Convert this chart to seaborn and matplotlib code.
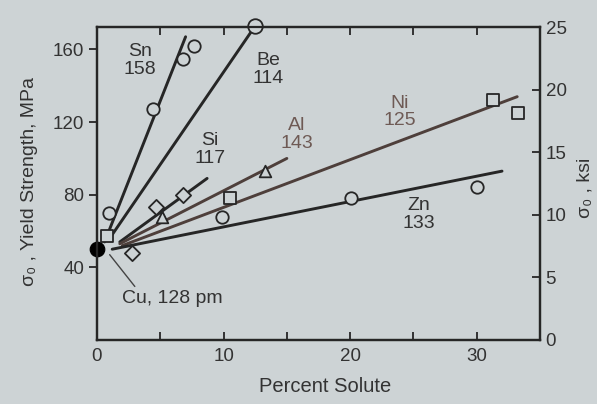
import matplotlib
matplotlib.use("Agg")
import matplotlib.pyplot as plt
import seaborn as sns
import pandas as pd

# ---- data ----
elements = ["Sn", "Be", "Si", "Al", "Ni", "Zn"]
radii_pm = [158, 114, 117, 143, 125, 133]
line_x_start = [0.6, 1.2, 1.8, 1.8, 2.0, 1.2]
line_y_start = [54, 58, 54, 53, 52, 50]
line_x_end = [7.0, 12.5, 8.7, 15.0, 33.2, 32.0]
line_y_end = [167, 173, 89, 100, 134, 93]

sn_x = [0.95, 4.4, 6.8, 7.7]
sn_y = [70, 127, 155, 162]
be_x = [12.5]
be_y = [173]
si_x = [2.8, 4.7, 6.8]
si_y = [48, 73, 80]
al_x = [5.1, 13.3]
al_y = [68, 93]
ni_x = [0.8, 10.5, 31.3, 33.3]
ni_y = [57, 78, 132, 125]
zn_x = [9.9, 20.1, 30.0]
zn_y = [68, 78, 84]
cu_x = [0.0]
cu_y = [50]

label_x = [3.4, 13.5, 8.9, 15.8, 23.9, 25.4]
label_y = [154, 149, 105, 113, 125.5, 69]

x_ticks = [0, 10, 20, 30]
y_ticks_mpa = [40, 80, 120, 160]
y_ticks_ksi = [0, 5, 10, 15, 20, 25]

# ---- style ----
BG = "#cdd3d5"
DARK = "#262626"
BROWN = "#4e3f3b"
TXT = "#333333"
BROWN_TXT = "#6e5a55"

sns.set_style("ticks")
plt.rcParams["font.family"] = ["Liberation Sans", "DejaVu Sans"]

fig = plt.figure(figsize=(5.97, 4.04), dpi=100, facecolor=BG)
ax = fig.add_axes([97 / 597, 64 / 404, 443 / 597, 313 / 404])
ax.set_facecolor(BG)

line_colors = {"Sn": DARK, "Be": DARK, "Si": DARK, "Al": BROWN, "Ni": BROWN, "Zn": DARK}
rows = []
for el, xs, ys, xe, ye in zip(elements, line_x_start, line_y_start, line_x_end, line_y_end):
    rows.append({"element": el, "x": xs, "y": ys, "end": 0})
    rows.append({"element": el, "x": xe, "y": ye, "end": 1})
lines_df = pd.DataFrame(rows)
sns.lineplot(data=lines_df, x="x", y="y", hue="element", palette=line_colors,
             estimator=None, sort=False, legend=False, linewidth=2.1, ax=ax)

point_sets = [
    (sn_x, sn_y, "o", 80),
    (be_x, be_y, "o", 110),
    (si_x, si_y, "D", 60),
    (al_x, al_y, "^", 70),
    (ni_x, ni_y, "s", 75),
    (zn_x, zn_y, "o", 80),
]
for xs, ys, mk, s in point_sets:
    sns.scatterplot(x=xs, y=ys, marker=mk, s=s, color=DARK, facecolor=BG,
                    edgecolor=DARK, linewidth=1.3, zorder=5, clip_on=False, ax=ax)
sns.scatterplot(x=cu_x, y=cu_y, marker="o", s=110, color="black", edgecolor="black",
                zorder=6, clip_on=False, ax=ax)

ax.set_xlim(0, 35)
ax.set_ylim(0, 25 * 6.895)
ax.set_xticks(x_ticks)
ax.set_xticks([5, 15, 25], minor=True)
ax.set_yticks(y_ticks_mpa)
ax.set_xlabel("")
ax.set_ylabel("")
ax.tick_params(axis="x", which="both", direction="in", length=6, width=1.3,
               top=True, colors=DARK, labelcolor=TXT, labelsize=13.5, pad=6)
ax.tick_params(axis="y", direction="out", length=6, width=1.3, colors=DARK,
               labelcolor=TXT, labelsize=13.5, pad=3)
for sp in ax.spines.values():
    sp.set_linewidth(1.6)
    sp.set_color(DARK)

ax2 = ax.twinx()
ax2.set_ylim(0, 25)
ax2.set_yticks(y_ticks_ksi)
ax2.tick_params(axis="y", direction="in", length=6, width=1.3, colors=DARK,
                labelcolor=TXT, labelsize=13.5, pad=4)
for sp in ax2.spines.values():
    sp.set_linewidth(1.6)
    sp.set_color(DARK)

for el, r, lx, ly in zip(elements, radii_pm, label_x, label_y):
    c = BROWN_TXT if el in ("Al", "Ni") else TXT
    ax.text(lx, ly, f"{el}\n{r}", ha="center", va="center", fontsize=14,
            color=c, linespacing=1.05, zorder=7)

ax.annotate("Cu, 128 pm", xy=(1.0, 47), xytext=(2.0, 23), fontsize=14, color=TXT,
            ha="left", va="center",
            arrowprops=dict(arrowstyle="-", color="#444444", lw=1.0,
                            shrinkA=0, shrinkB=0, relpos=(0.15, 1.0)))

fig.text(30 / 597, 1 - 182 / 404, "σ₀ , Yield Strength, MPa", rotation=90,
         ha="center", va="center", fontsize=14, color=TXT)
fig.text(325 / 597, 1 - 386 / 404, "Percent Solute", ha="center", va="center",
         fontsize=14.5, color=TXT)
fig.text(585 / 597, 1 - 188 / 404, "σ₀ , ksi", rotation=90, ha="center",
         va="center", fontsize=14, color=TXT)

fig.savefig("out.png", dpi=100, facecolor=BG)
